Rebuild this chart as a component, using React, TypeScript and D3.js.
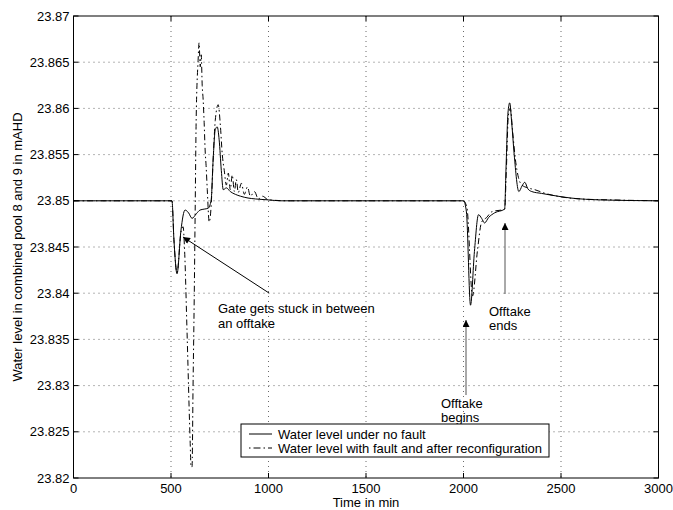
import React from "react";
import * as d3 from "d3";

// time (min) and water level (mAHD)
const noFaultTime = [0, 505, 515, 531, 551, 572, 590, 608, 630, 649, 670, 691, 706, 716, 727, 737, 747, 758, 768, 784, 804, 830, 856, 895, 933, 1000, 1060, 2000, 2015, 2036, 2056, 2077, 2093, 2108, 2129, 2160, 2211, 2218, 2228, 2237, 2247, 2260, 2284, 2300, 2314, 2330, 2350, 2400, 2454, 2550, 2700, 3000];
const noFaultLevel = [23.85, 23.85, 23.8458, 23.8421, 23.8468, 23.849, 23.8487, 23.8481, 23.8486, 23.849, 23.8491, 23.8492, 23.8501, 23.8544, 23.8577, 23.858, 23.8566, 23.8533, 23.8512, 23.8514, 23.851, 23.8507, 23.8505, 23.8503, 23.8502, 23.8501, 23.85, 23.85, 23.8488, 23.8387, 23.8445, 23.8485, 23.8481, 23.8476, 23.8482, 23.8487, 23.8491, 23.8535, 23.8595, 23.8606, 23.8585, 23.855, 23.851, 23.8516, 23.852, 23.8513, 23.851, 23.8508, 23.8506, 23.8503, 23.8501, 23.85];

const faultTime = [0, 505, 515, 531, 551, 562, 570, 582, 598, 603, 608, 613, 619, 624, 629, 639, 644, 650, 655, 660, 665, 670, 675, 680, 686, 696, 706, 716, 727, 742, 753, 763, 773, 784, 794, 804, 814, 825, 835, 845, 861, 876, 892, 907, 928, 948, 969, 1000, 1113, 2000, 2018, 2046, 2072, 2093, 2119, 2144, 2211, 2220, 2230, 2240, 2252, 2266, 2282, 2300, 2330, 2366, 2420, 2480, 2600, 2750, 3000];
const faultLevel = [23.85, 23.85, 23.8458, 23.8422, 23.8466, 23.8472, 23.8445, 23.836, 23.8241, 23.8212, 23.8212, 23.8298, 23.8393, 23.849, 23.8587, 23.8652, 23.8671, 23.8645, 23.8658, 23.8625, 23.8609, 23.8585, 23.8555, 23.8538, 23.8512, 23.8477, 23.8495, 23.8544, 23.8587, 23.8604, 23.8582, 23.855, 23.8533, 23.8517, 23.853, 23.8512, 23.8528, 23.851, 23.8523, 23.8509, 23.8519, 23.8507, 23.8515, 23.8505, 23.851, 23.8502, 23.8505, 23.8501, 23.85, 23.85, 23.8492, 23.8397, 23.8447, 23.8477, 23.8482, 23.8488, 23.8491, 23.8535, 23.8592, 23.86, 23.8575, 23.8545, 23.8525, 23.8517, 23.8514, 23.8512, 23.8508, 23.8505, 23.8502, 23.8501, 23.85];

const xTicks = [0, 500, 1000, 1500, 2000, 2500, 3000];
const yTicks = [23.82, 23.825, 23.83, 23.835, 23.84, 23.845, 23.85, 23.855, 23.86, 23.865, 23.87];
const yTickLabels = ["23.82", "23.825", "23.83", "23.835", "23.84", "23.845", "23.85", "23.855", "23.86", "23.865", "23.87"];

const legendLabels = ["Water level under no fault", "Water level with fault and after reconfiguration"];

const W = 673;
const H = 510;
const left = 73.5;
const right = 658.5;
const top = 16;
const bottom = 478;
const font = "'Liberation Sans', Arial, Helvetica, sans-serif";
const fs = 13;

export default function App() {
  const x = d3.scaleLinear().domain([0, 3000]).range([left, right]);
  const y = d3.scaleLinear().domain([23.82, 23.87]).range([bottom, top]);

  const line = d3
    .line<[number, number]>()
    .x((d) => x(d[0]))
    .y((d) => y(d[1]))
    .curve(d3.curveMonotoneX);

  const noFault = noFaultTime.map((t, i) => [t, noFaultLevel[i]] as [number, number]);
  const fault = faultTime.map((t, i) => [t, faultLevel[i]] as [number, number]);

  const dashDot = "6 3 1.5 3";

  return (
    <svg
      width={W}
      height={H}
      style={{ position: "absolute", left: 0, top: 0, background: "#fff" }}
      fontFamily={font}
    >
      <defs>
        <clipPath id="plot">
          <rect x={left} y={top} width={right - left} height={bottom - top} />
        </clipPath>
        <marker id="headBlack" viewBox="0 0 10 10" refX="10" refY="5" markerWidth="9" markerHeight="7" markerUnits="userSpaceOnUse" orient="auto">
          <path d="M0,0 L10,5 L0,10 z" fill="#000" />
        </marker>
      </defs>
      <rect x={0} y={0} width={W} height={H} fill="#fff" />

      {/* grid */}
      {xTicks.slice(1, -1).map((t) => (
        <line key={"gx" + t} x1={x(t)} x2={x(t)} y1={top} y2={bottom} stroke="#444" strokeWidth={0.8} strokeDasharray="1 4" />
      ))}
      {yTicks.slice(1, -1).map((t) => (
        <line key={"gy" + t} x1={left} x2={right} y1={y(t)} y2={y(t)} stroke="#444" strokeWidth={0.8} strokeDasharray="1 4" />
      ))}

      {/* ticks */}
      {xTicks.map((t) => (
        <g key={"tx" + t}>
          <line x1={x(t)} x2={x(t)} y1={bottom} y2={bottom - 5} stroke="#000" />
          <line x1={x(t)} x2={x(t)} y1={top} y2={top + 5} stroke="#000" />
          <text x={x(t)} y={bottom + 15} textAnchor="middle" fontSize={fs}>{t}</text>
        </g>
      ))}
      {yTicks.map((t, i) => (
        <g key={"ty" + t}>
          <line x1={left} x2={left + 5} y1={y(t)} y2={y(t)} stroke="#000" />
          <line x1={right} x2={right - 5} y1={y(t)} y2={y(t)} stroke="#000" />
          <text x={left - 4} y={y(t) + 4.5} textAnchor="end" fontSize={fs}>{yTickLabels[i]}</text>
        </g>
      ))}

      {/* series */}
      <g clipPath="url(#plot)">
        <path d={line(noFault) || ""} fill="none" stroke="#000" strokeWidth={1} />
        <path d={line(fault) || ""} fill="none" stroke="#000" strokeWidth={1} strokeDasharray={dashDot} />
      </g>

      {/* frame */}
      <rect x={left} y={top} width={right - left} height={bottom - top} fill="none" stroke="#000" strokeWidth={1} />

      {/* annotations */}
      <line x1={269} y1={293} x2={183} y2={237} stroke="#000" strokeWidth={1} markerEnd="url(#headBlack)" />
      <text x={218} y={313} fontSize={fs}>Gate gets stuck in between</text>
      <text x={218} y={328} fontSize={fs}>an offtake</text>

      <line x1={466} y1={395} x2={466} y2={320} stroke="#555" strokeWidth={1} markerEnd="url(#headBlack)" />
      <text x={441} y={408} fontSize={fs}>Offtake</text>
      <text x={441} y={422} fontSize={fs}>begins</text>

      <line x1={505} y1={294} x2={505} y2={223} stroke="#555" strokeWidth={1} markerEnd="url(#headBlack)" />
      <text x={489} y={316} fontSize={fs}>Offtake</text>
      <text x={489} y={330} fontSize={fs}>ends</text>

      {/* legend */}
      <rect x={241} y={424} width={308} height={33} fill="#fff" stroke="#000" strokeWidth={1} />
      <line x1={249} x2={272} y1={434} y2={434} stroke="#000" />
      <line x1={249} x2={272} y1={448} y2={448} stroke="#000" strokeDasharray="1.5 3 7 3" />
      <text x={278} y={438.5} fontSize={fs}>{legendLabels[0]}</text>
      <text x={278} y={452.5} fontSize={fs}>{legendLabels[1]}</text>

      {/* axis labels */}
      <text x={(left + right) / 2} y={507} textAnchor="middle" fontSize={fs}>Time in min</text>
      <text transform={`translate(22, ${(top + bottom) / 2}) rotate(-90)`} textAnchor="middle" fontSize={fs}>
        Water level in combined pool 8 and 9 in mAHD
      </text>
    </svg>
  );
}
